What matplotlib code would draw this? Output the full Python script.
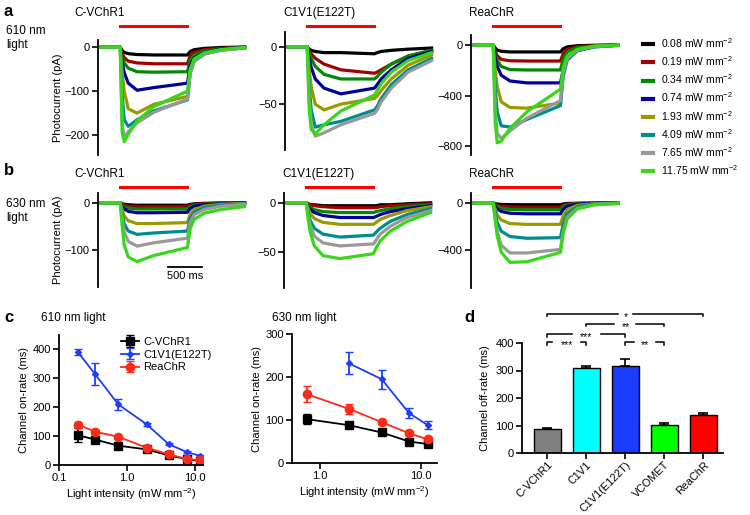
import matplotlib
matplotlib.use('Agg')
import matplotlib.pyplot as plt
from matplotlib.lines import Line2D

plt.rcParams['font.family'] = ['Liberation Sans', 'DejaVu Sans']
plt.rcParams['mathtext.default'] = 'regular'
plt.rcParams['font.size'] = 8
plt.rcParams['axes.linewidth'] = 1.3
plt.rcParams['xtick.major.width'] = 1.2
plt.rcParams['ytick.major.width'] = 1.2

# ---- data ----
intensities = ['0.08', '0.19', '0.34', '0.74', '1.93', '4.09', '7.65', '11.75']
trace_colors = ['#000000', '#a00000', '#008a00', '#000099', '#999900',
                '#008c8c', '#999999', '#3ad61b']

# sample times (ms) relative to light onset
t_ms = [-280, 0, 30, 60, 120, 250, 500, 1000, 1040, 1100, 1250, 1500, 1850]

vchr_610 = [
    [0, 0, -8, -12, -15, -17, -18, -18, -10, -6, -3, -1, 0],
    [0, 0, -15, -24, -32, -36, -38, -38, -20, -12, -6, -3, 0],
    [0, 0, -22, -36, -48, -56, -57, -56, -30, -18, -9, -4, -1],
    [0, 0, -35, -58, -82, -98, -92, -82, -42, -25, -12, -5, -1],
    [0, 0, -60, -100, -140, -150, -130, -112, -55, -30, -15, -6, -2],
    [0, 0, -110, -165, -180, -165, -145, -120, -60, -32, -16, -7, -2],
    [0, 0, -175, -205, -192, -172, -148, -118, -58, -30, -15, -7, -2],
    [0, 0, -195, -215, -198, -168, -135, -100, -50, -27, -13, -6, -1],
]
c1v1_610 = [
    [0, 0, -2, -3, -4, -5, -5, -6, -5, -4, -3, -2, -1],
    [0, 0, -3, -6, -10, -15, -20, -23, -22, -20, -15, -8, -3],
    [0, 0, -5, -10, -17, -24, -28, -28, -26, -22, -15, -8, -3],
    [0, 0, -10, -18, -28, -36, -41, -36, -33, -28, -20, -10, -4],
    [0, 0, -20, -35, -50, -55, -50, -45, -43, -38, -28, -16, -7],
    [0, 0, -35, -55, -70, -68, -65, -55, -52, -45, -33, -20, -10],
    [0, 0, -45, -68, -78, -75, -68, -58, -55, -48, -36, -22, -12],
    [0, 0, -55, -72, -76, -68, -56, -42, -38, -32, -22, -12, -5],
]
rea_610 = [
    [0, 0, -25, -40, -50, -55, -55, -55, -30, -15, -6, -2, 0],
    [0, 0, -50, -85, -115, -125, -127, -127, -70, -35, -14, -5, 0],
    [0, 0, -70, -120, -170, -195, -198, -198, -110, -55, -22, -8, -1],
    [0, 0, -100, -170, -240, -285, -300, -300, -200, -110, -45, -15, -3],
    [0, 0, -200, -330, -450, -495, -500, -460, -230, -110, -40, -12, -2],
    [0, 0, -350, -530, -640, -650, -590, -480, -250, -120, -45, -14, -3],
    [0, 0, -520, -700, -740, -680, -580, -440, -220, -105, -40, -12, -2],
    [0, 0, -620, -775, -760, -660, -530, -350, -180, -90, -35, -10, -2],
]
vchr_630 = [
    [0, 0, -2, -3, -4, -5, -5, -5, -3, -2, -1, 0, 0],
    [0, 0, -3, -5, -7, -8, -8, -8, -5, -3, -2, -1, 0],
    [0, 0, -5, -8, -11, -13, -13, -13, -8, -5, -3, -1, 0],
    [0, 0, -8, -13, -18, -21, -21, -20, -12, -7, -4, -2, 0],
    [0, 0, -15, -28, -38, -44, -44, -42, -24, -14, -7, -3, -1],
    [0, 0, -25, -45, -60, -67, -64, -60, -34, -20, -10, -5, -2],
    [0, 0, -35, -62, -82, -92, -85, -75, -42, -25, -14, -7, -3],
    [0, 0, -50, -90, -115, -125, -112, -95, -55, -35, -22, -14, -8],
]
c1v1_630 = [
    [0, 0, -1, -2, -2, -3, -3, -3, -3, -2, -2, -1, 0],
    [0, 0, -1, -2, -3, -4, -5, -5, -5, -4, -3, -2, -1],
    [0, 0, -3, -5, -7, -9, -10, -10, -9, -8, -6, -4, -2],
    [0, 0, -4, -7, -10, -13, -15, -15, -14, -12, -9, -6, -3],
    [0, 0, -6, -11, -16, -20, -22, -22, -20, -17, -13, -8, -4],
    [0, 0, -10, -18, -26, -32, -35, -33, -30, -26, -19, -12, -6],
    [0, 0, -13, -23, -34, -41, -44, -42, -38, -32, -24, -15, -8],
    [0, 0, -17, -30, -44, -54, -57, -52, -46, -39, -29, -19, -10],
]
rea_630 = [
    [0, 0, -5, -9, -12, -14, -15, -15, -8, -4, -2, -1, 0],
    [0, 0, -12, -20, -28, -34, -36, -36, -20, -10, -4, -1, 0],
    [0, 0, -18, -32, -46, -55, -58, -58, -32, -16, -6, -2, 0],
    [0, 0, -28, -50, -72, -87, -92, -92, -55, -28, -10, -3, 0],
    [0, 0, -55, -100, -145, -175, -182, -182, -110, -55, -20, -6, -1],
    [0, 0, -90, -165, -240, -285, -300, -295, -180, -90, -32, -10, -2],
    [0, 0, -130, -240, -360, -425, -425, -395, -240, -120, -45, -14, -3],
    [0, 0, -150, -280, -420, -505, -500, -420, -260, -135, -50, -16, -4],
]

# on-rate data (panel c)
x610 = [0.19, 0.34, 0.74, 1.93, 4.09, 7.65, 11.75]
vchr_on610 = [103, 88, 67, 54, 33, 20, 14]
vchr_on610_err = [25, 8, 6, 5, 5, 4, 4]
c1v1_on610 = [390, 314, 210, 141, 72, 44, 32]
c1v1_on610_err = [10, 38, 20, 5, 4, 4, 4]
rea_on610 = [140, 115, 98, 60, 37, 20, 17]
rea_on610_err = [8, 5, 4, 4, 4, 3, 3]

x630 = [0.74, 1.93, 4.09, 7.65, 11.75]
vchr_on630 = [102, 88, 71, 50, 44]
vchr_on630_err = [12, 6, 5, 5, 4]
c1v1_x630 = [1.93, 4.09, 7.65, 11.75]
c1v1_on630 = [232, 195, 116, 88]
c1v1_on630_err = [25, 22, 12, 10]
rea_on630 = [160, 126, 95, 69, 55]
rea_on630_err = [18, 12, 5, 5, 5]

# off-rate data (panel d)
opsins = ['C-VChR1', 'C1V1', 'C1V1(E122T)', 'VCOMET', 'ReaChR']
off_rate = [88, 308, 316, 103, 140]
off_err = [3, 10, 25, 5, 6]
bar_colors = ['#808080', '#00ffff', '#1a3cff', '#00ff00', '#ff0000']
sig_pairs = [(0, 4, '*'), (1, 3, '**'), (0, 2, '***'), (0, 1, '***'), (2, 3, '**')]
sig_levels = [507, 470, 433, 404, 404]

W, H = 750, 515
fig = plt.figure(figsize=(W / 100, H / 100), dpi=100)


def box(x0, y0, x1, y1):
    return [x0 / W, 1 - y1 / H, (x1 - x0) / W, (y1 - y0) / H]


def ftext(x, y, s, **kw):
    fig.text(x / W, 1 - y / H, s, **kw)


def trace_panel(left, top, bottom, ylim, yticks, traces, title, bar_y):
    ax = fig.add_axes(box(left, top, left + 150, bottom))
    for vals, col in zip(traces, trace_colors):
        ax.plot(t_ms, vals, color=col, lw=2.3, solid_joinstyle='round')
    ax.set_xlim(-330, 1900)
    ax.set_ylim(*ylim)
    ax.set_yticks(yticks)
    ax.set_xticks([])
    for s in ['top', 'right', 'bottom']:
        ax.spines[s].set_visible(False)
    ax.tick_params(axis='y', length=4, pad=2, labelsize=8)
    # light pulse bar
    frac = 1 + (top - bar_y) / (bottom - top)
    ax.plot([0, 1000], [frac, frac], color='red', lw=2.2,
            transform=ax.get_xaxis_transform(), clip_on=False)
    ftext(left - 2 if 'VChR' not in title else left - 24, bar_y - 13, title,
          fontsize=8.5, va='center')
    return ax


# panel a
ax_a1 = trace_panel(98, 40, 155, (-245, 16), [0, -100, -200], vchr_610, 'C-VChR1', 26)
trace_panel(285, 32, 150, (-90, 13), [0, -50], c1v1_610, 'C1V1(E122T)', 26)
trace_panel(471, 35, 155, (-871, 79), [0, -400, -800], rea_610, 'ReaChR', 26)
ax_a1.set_ylabel('Photocurrent (pA)', fontsize=8, labelpad=1)

# panel b
ax_b1 = trace_panel(98, 193, 287, (-179, 21), [0, -100], vchr_630, 'C-VChR1', 187)
trace_panel(284, 193, 288, (-87, 10), [0, -50], c1v1_630, 'C1V1(E122T)', 187)
trace_panel(471, 193, 288, (-723, 85), [0, -400], rea_630, 'ReaChR', 187)
ax_b1.set_ylabel('Photocurrent (pA)', fontsize=8, labelpad=1)
# scale bar 500 ms
ax_b1.plot([710, 1210], [-136, -136], color='black', lw=1.3, clip_on=False)
ax_b1.text(960, -145, '500 ms', ha='center', va='top', fontsize=8)

ftext(4, 12, 'a', fontsize=12, fontweight='bold', va='center')
ftext(4, 171, 'b', fontsize=12, fontweight='bold', va='center')
ftext(6, 38, '610 nm\nlight', fontsize=8.5, va='center', linespacing=1.3)
ftext(6, 211, '630 nm\nlight', fontsize=8.5, va='center', linespacing=1.3)

# trace legend
handles = [Line2D([], [], color=c, lw=3) for c in trace_colors]
labels = [f'{v} mW mm$^{{-2}}$' for v in intensities]
fig.legend(handles, labels, loc='upper left', bbox_to_anchor=(643 / W, 1 - 36 / H),
           frameon=False, fontsize=7.5, handlelength=1.0, handletextpad=0.7,
           labelspacing=0.42, borderaxespad=0, borderpad=0)


# panel c
def onrate_axes(rect):
    ax = fig.add_axes(rect)
    for s in ['top', 'right']:
        ax.spines[s].set_visible(False)
    ax.set_xscale('log')
    ax.minorticks_off()
    ax.tick_params(length=4, pad=2, labelsize=8)
    ax.set_xlabel('Light intensity (mW mm$^{-2}$)', fontsize=8, labelpad=2)
    return ax


ax_c1 = onrate_axes(box(59, 335, 203, 465))
ax_c1.errorbar(x610, vchr_on610, yerr=vchr_on610_err, color='black', marker='s',
               ms=6, lw=1.3, capsize=3, label='C-VChR1')
ax_c1.errorbar(x610, c1v1_on610, yerr=c1v1_on610_err, color='#1f3dff', marker='D',
               ms=3, lw=1.3, capsize=3, label='C1V1(E122T)')
ax_c1.errorbar(x610, rea_on610, yerr=rea_on610_err, color='#ff2a1a', marker='o',
               ms=6, lw=1.3, capsize=3, label='ReaChR')
ax_c1.set_xlim(0.1, 13)
ax_c1.set_ylim(0, 450)
ax_c1.set_yticks([0, 100, 200, 300, 400])
ax_c1.set_xticks([0.1, 1, 10], ['0.1', '1.0', '10.0'])
ax_c1.minorticks_off()
ax_c1.set_ylabel('Channel on-rate (ms)', fontsize=8, labelpad=2)
ax_c1.legend(loc='upper left', bbox_to_anchor=(0.4, 1.02), frameon=False, fontsize=8,
             handlelength=1.6, handletextpad=0.4, labelspacing=0.25, borderaxespad=0)

ax_c2 = onrate_axes(box(292, 334, 437, 463))
ax_c2.errorbar(x630, vchr_on630, yerr=vchr_on630_err, color='black', marker='s',
               ms=6, lw=1.3, capsize=3)
ax_c2.errorbar(c1v1_x630, c1v1_on630, yerr=c1v1_on630_err, color='#1f3dff', marker='D',
               ms=3, lw=1.3, capsize=3)
ax_c2.errorbar(x630, rea_on630, yerr=rea_on630_err, color='#ff2a1a', marker='o',
               ms=6, lw=1.3, capsize=3)
ax_c2.set_xlim(0.527, 14.5)
ax_c2.set_ylim(0, 300)
ax_c2.set_yticks([0, 100, 200, 300])
ax_c2.set_xticks([1, 10], ['1.0', '10.0'])
ax_c2.minorticks_off()
ax_c2.set_ylabel('Channel on-rate (ms)', fontsize=8, labelpad=2)

ftext(4, 318, 'c', fontsize=12, fontweight='bold', va='center')
ftext(41, 318, '610 nm light', fontsize=8.5, va='center')
ftext(272, 318, '630 nm light', fontsize=8.5, va='center')

# panel d
ax_d = fig.add_axes(box(522, 343, 723, 453))
xpos = list(range(len(opsins)))
ax_d.bar(xpos, off_rate, width=0.69, color=bar_colors, edgecolor='black', lw=1.0)
ax_d.errorbar(xpos, off_rate, yerr=[[0] * len(off_err), off_err], fmt='none',
              ecolor='black', elinewidth=1.2, capsize=3.5, capthick=1.2)
for s in ['top', 'right']:
    ax_d.spines[s].set_visible(False)
ax_d.set_xlim(-0.65, 4.5)
ax_d.set_ylim(0, 400)
ax_d.set_yticks([0, 100, 200, 300, 400])
ax_d.set_xticks(xpos)
ax_d.set_xticklabels(opsins, rotation=45, ha='right', rotation_mode='anchor')
ax_d.tick_params(axis='y', length=4, pad=2, labelsize=8)
ax_d.tick_params(axis='x', length=4, pad=1, labelsize=7.8)
ax_d.set_ylabel('Channel off-rate (ms)', fontsize=8, labelpad=4)
for (i, j, lab), lev in zip(sig_pairs, sig_levels):
    mid = (i + j) / 2
    gap = 0.1 + 0.09 * len(lab)
    ax_d.plot([i, i, mid - gap], [lev - 10, lev, lev], color='black', lw=1.1,
              clip_on=False)
    ax_d.plot([mid + gap, j, j], [lev, lev, lev - 10], color='black', lw=1.1,
              clip_on=False)
    ax_d.text(mid, lev - 22, lab, ha='center', va='baseline', fontsize=7.5,
              clip_on=False)

ftext(464, 318, 'd', fontsize=12, fontweight='bold', va='center')

fig.savefig('out.png', dpi=100)
